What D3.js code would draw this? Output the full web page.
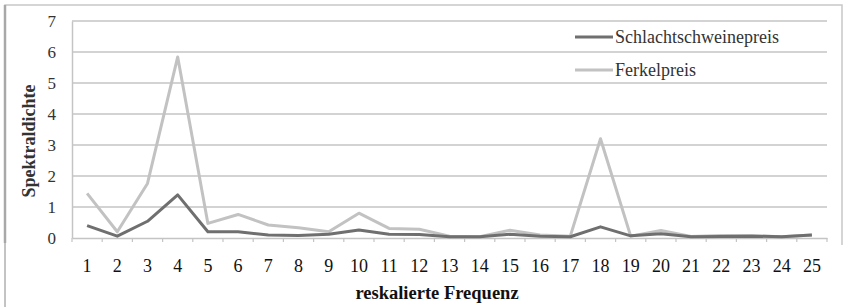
<!DOCTYPE html>
<html>
<head>
<meta charset="utf-8">
<script src="https://cdn.jsdelivr.net/npm/d3@7"></script>
<style>
  body { margin: 0; background: #fff; }
  svg { display: block; }
</style>
</head>
<body>
<svg id="chart"></svg>
<script>
const categories = d3.range(1, 26).map(String);
const schlachtValues = [0.4, 0.06, 0.54, 1.39, 0.2, 0.2, 0.1, 0.08, 0.12, 0.26, 0.12, 0.11, 0.04, 0.04, 0.12, 0.06, 0.04, 0.36, 0.07, 0.14, 0.04, 0.05, 0.06, 0.04, 0.1];
const ferkelValues = [1.44, 0.2, 1.76, 5.84, 0.47, 0.76, 0.42, 0.33, 0.2, 0.8, 0.31, 0.28, 0.06, 0.04, 0.25, 0.1, 0.06, 3.2, 0.06, 0.24, 0.05, 0.08, 0.08, 0.04, 0.1];
const yTicks = [0, 1, 2, 3, 4, 5, 6, 7];
const seriesNames = ["Schlachtschweinepreis", "Ferkelpreis"];

const width = 847, height = 307;
const margin = { top: 21, right: 20, bottom: 69, left: 72 };
const innerWidth = width - margin.left - margin.right;
const innerHeight = height - margin.top - margin.bottom;
const font = "'Liberation Serif', 'Times New Roman', serif";

const svg = d3.select("#chart").attr("width", width).attr("height", height);

// outer frame (cropped chart border)
svg.append("path")
  .attr("d", "M5,243 V5 H842 V245")
  .attr("fill", "none").attr("stroke", "#c8c8c8").attr("stroke-width", 1.5);
svg.append("line")
  .attr("x1", 5).attr("x2", 5).attr("y1", 5).attr("y2", 243)
  .attr("stroke", "#a8a8a8").attr("stroke-width", 2.5);
svg.append("line")
  .attr("x1", 5).attr("x2", 5).attr("y1", 243).attr("y2", height)
  .attr("stroke", "#888").attr("stroke-width", 1);

const g = svg.append("g").attr("transform", `translate(${margin.left},${margin.top})`);

const x = d3.scaleBand().domain(categories).range([0, innerWidth]);
const y = d3.scaleLinear().domain([0, 7]).range([innerHeight, 0]);

// gridlines
g.append("g")
  .selectAll("line")
  .data(yTicks.filter(d => d > 0))
  .join("line")
  .attr("x1", 0).attr("x2", innerWidth)
  .attr("y1", d => y(d)).attr("y2", d => y(d))
  .attr("stroke", "#c4c4c4").attr("stroke-width", 1.5);

// y axis
const yAxis = g.append("g")
  .call(d3.axisLeft(y).tickValues(yTicks).tickFormat(d3.format("d")).tickSize(0).tickPadding(16));
yAxis.select(".domain").attr("stroke", "#c4c4c4").attr("stroke-width", 1.5);
yAxis.selectAll("text")
  .attr("font-family", font).attr("font-size", 17).attr("fill", "#333");

// x axis
const xAxis = g.append("g")
  .attr("transform", `translate(0,${innerHeight})`)
  .call(d3.axisBottom(x).tickSize(0).tickPadding(21));
xAxis.select(".domain").attr("stroke", "#c4c4c4").attr("stroke-width", 1.5);
xAxis.selectAll("text")
  .attr("font-family", font).attr("font-size", 18).attr("fill", "#111");
g.append("g")
  .selectAll("line")
  .data(d3.range(0, categories.length + 1))
  .join("line")
  .attr("x1", d => d * x.step()).attr("x2", d => d * x.step())
  .attr("y1", innerHeight).attr("y2", innerHeight + 4)
  .attr("stroke", "#c4c4c4").attr("stroke-width", 1.2);

// lines
const line = d3.line()
  .x((d, i) => x(categories[i]) + x.bandwidth() / 2)
  .y(d => y(d));

g.append("path")
  .datum(ferkelValues)
  .attr("fill", "none").attr("stroke", "#c2c2c2").attr("stroke-width", 3)
  .attr("stroke-linejoin", "round")
  .attr("d", line);

g.append("path")
  .datum(schlachtValues)
  .attr("fill", "none").attr("stroke", "#6f6f6f").attr("stroke-width", 3)
  .attr("stroke-linejoin", "round")
  .attr("d", line);

// legend
const legendColors = ["#6f6f6f", "#c2c2c2"];
const legend = svg.append("g").attr("transform", "translate(575,37)");
seriesNames.forEach((name, i) => {
  const row = legend.append("g").attr("transform", `translate(0,${i * 33})`);
  row.append("line")
    .attr("x1", 0).attr("x2", 38).attr("y1", 0).attr("y2", 0)
    .attr("stroke", legendColors[i]).attr("stroke-width", 3);
  row.append("text")
    .attr("x", 40).attr("y", 6)
    .attr("font-family", font).attr("font-size", 18).attr("fill", "#333")
    .text(name);
});

// axis titles
svg.append("text")
  .attr("transform", "translate(35,141) rotate(-90)")
  .attr("text-anchor", "middle")
  .attr("font-family", font).attr("font-size", 18).attr("font-weight", "bold").attr("fill", "#333")
  .text("Spektraldichte");

svg.append("text")
  .attr("x", 437).attr("y", 299)
  .attr("text-anchor", "middle")
  .attr("font-family", font).attr("font-size", 18.5).attr("font-weight", "bold").attr("fill", "#111")
  .text("reskalierte Frequenz");
</script>
</body>
</html>
